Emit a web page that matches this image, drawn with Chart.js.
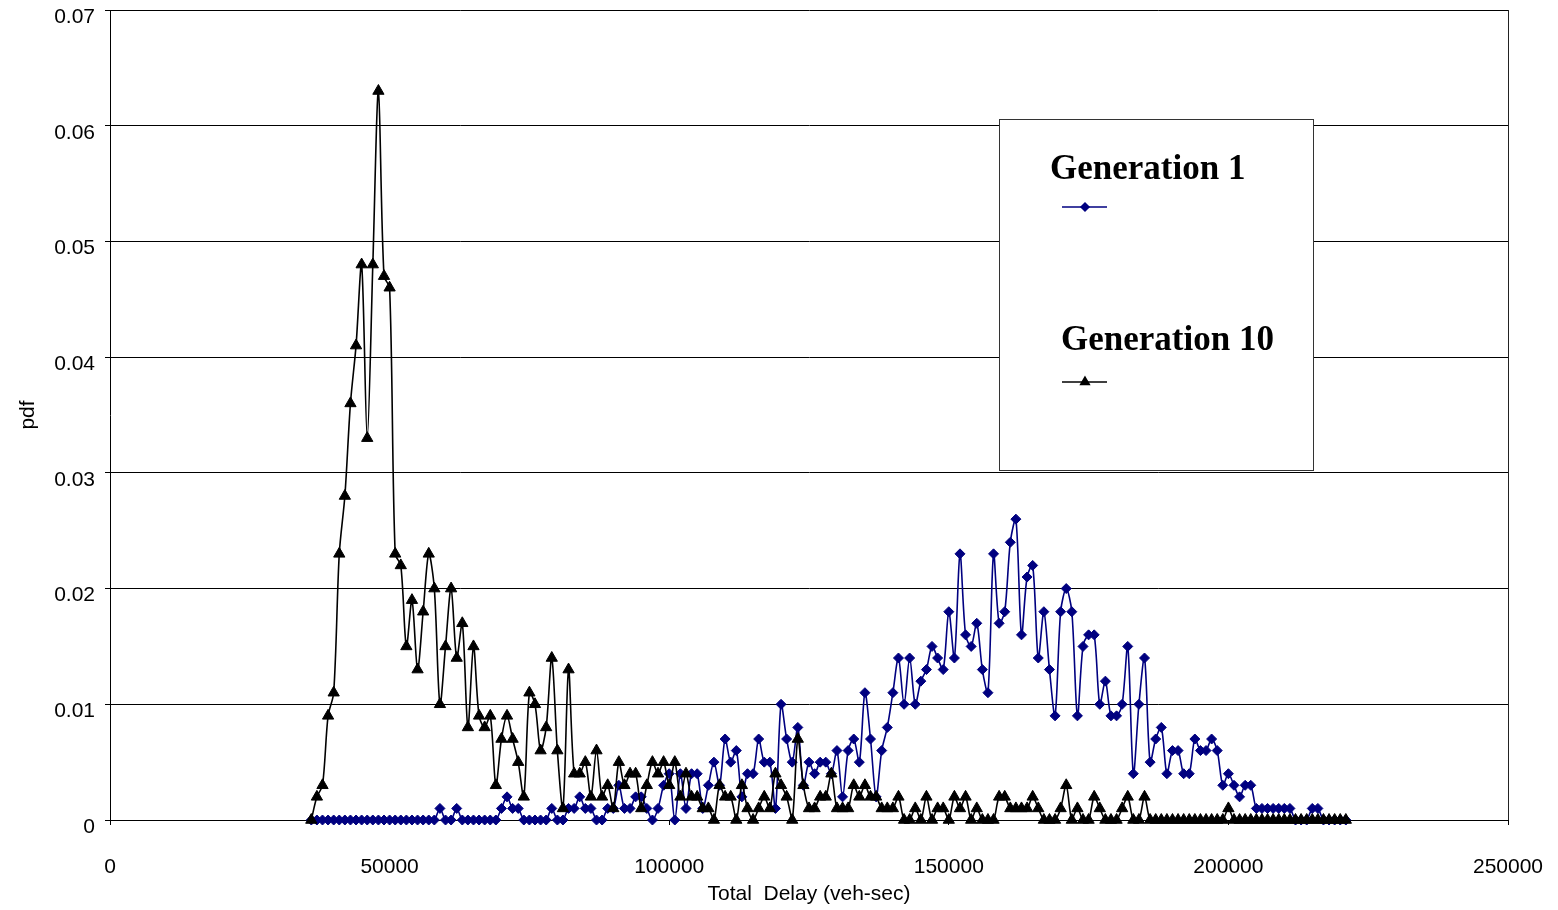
<!DOCTYPE html>
<html>
<head>
<meta charset="utf-8">
<script src="https://cdn.jsdelivr.net/npm/chart.js@4/dist/chart.umd.min.js"></script>
<style>
  html, body { margin: 0; padding: 0; background: #fff; }
  #pdfChart { display: block; }
</style>
</head>
<body>
<canvas id="pdfChart" width="1558" height="910"></canvas>
<script>
// total delay bins (veh-sec)
const delay = [
  36000, 37000, 38000, 39000, 40000, 41000, 42000, 43000, 44000, 45000,
  46000, 47000, 48000, 49000, 50000, 51000, 52000, 53000, 54000, 55000,
  56000, 57000, 58000, 59000, 60000, 61000, 62000, 63000, 64000, 65000,
  66000, 67000, 68000, 69000, 70000, 71000, 72000, 73000, 74000, 75000,
  76000, 77000, 78000, 79000, 80000, 81000, 82000, 83000, 84000, 85000,
  86000, 87000, 88000, 89000, 90000, 91000, 92000, 93000, 94000, 95000,
  96000, 97000, 98000, 99000, 100000, 101000, 102000, 103000, 104000, 105000,
  106000, 107000, 108000, 109000, 110000, 111000, 112000, 113000, 114000, 115000,
  116000, 117000, 118000, 119000, 120000, 121000, 122000, 123000, 124000, 125000,
  126000, 127000, 128000, 129000, 130000, 131000, 132000, 133000, 134000, 135000,
  136000, 137000, 138000, 139000, 140000, 141000, 142000, 143000, 144000, 145000,
  146000, 147000, 148000, 149000, 150000, 151000, 152000, 153000, 154000, 155000,
  156000, 157000, 158000, 159000, 160000, 161000, 162000, 163000, 164000, 165000,
  166000, 167000, 168000, 169000, 170000, 171000, 172000, 173000, 174000, 175000,
  176000, 177000, 178000, 179000, 180000, 181000, 182000, 183000, 184000, 185000,
  186000, 187000, 188000, 189000, 190000, 191000, 192000, 193000, 194000, 195000,
  196000, 197000, 198000, 199000, 200000, 201000, 202000, 203000, 204000, 205000,
  206000, 207000, 208000, 209000, 210000, 211000, 212000, 213000, 214000, 215000,
  216000, 217000, 218000, 219000, 220000, 221000
];

const gen1 = [
  0, 0, 0, 0, 0, 0, 0, 0, 0, 0,
  0, 0, 0, 0, 0, 0, 0, 0, 0, 0,
  0, 0, 0, 0.001, 0, 0, 0.001, 0, 0, 0,
  0, 0, 0, 0, 0.001, 0.002, 0.001, 0.001, 0, 0,
  0, 0, 0, 0.001, 0, 0, 0.001, 0.001, 0.002, 0.001,
  0.001, 0, 0, 0.001, 0.001, 0.003, 0.001, 0.001, 0.002, 0.002,
  0.001, 0, 0.001, 0.003, 0.004, 0, 0.004, 0.001, 0.004, 0.004,
  0.001, 0.003, 0.005, 0.003, 0.007, 0.005, 0.006, 0.002, 0.004, 0.004,
  0.007, 0.005, 0.005, 0.001, 0.010, 0.007, 0.005, 0.008, 0.003, 0.005,
  0.004, 0.005, 0.005, 0.004, 0.006, 0.002, 0.006, 0.007, 0.005, 0.011,
  0.007, 0.002, 0.006, 0.008, 0.011, 0.014, 0.010, 0.014, 0.010, 0.012,
  0.013, 0.015, 0.014, 0.013, 0.018, 0.014, 0.023, 0.016, 0.015, 0.017,
  0.013, 0.011, 0.023, 0.017, 0.018, 0.024, 0.026, 0.016, 0.021, 0.022,
  0.014, 0.018, 0.013, 0.009, 0.018, 0.020, 0.018, 0.009, 0.015, 0.016,
  0.016, 0.010, 0.012, 0.009, 0.009, 0.010, 0.015, 0.004, 0.010, 0.014,
  0.005, 0.007, 0.008, 0.004, 0.006, 0.006, 0.004, 0.004, 0.007, 0.006,
  0.006, 0.007, 0.006, 0.003, 0.004, 0.003, 0.002, 0.003, 0.003, 0.001,
  0.001, 0.001, 0.001, 0.001, 0.001, 0.001, 0, 0, 0, 0.001,
  0.001, 0, 0, 0, 0, 0
];

const gen10 = [
  0, 0.002, 0.003, 0.009, 0.011, 0.023, 0.028, 0.036, 0.041, 0.048,
  0.033, 0.048, 0.063, 0.047, 0.046, 0.023, 0.022, 0.015, 0.019, 0.013,
  0.018, 0.023, 0.020, 0.010, 0.015, 0.020, 0.014, 0.017, 0.008, 0.015,
  0.009, 0.008, 0.009, 0.003, 0.007, 0.009, 0.007, 0.005, 0.002, 0.011,
  0.010, 0.006, 0.008, 0.014, 0.006, 0.001, 0.013, 0.004, 0.004, 0.005,
  0.002, 0.006, 0.002, 0.003, 0.001, 0.005, 0.003, 0.004, 0.004, 0.001,
  0.003, 0.005, 0.004, 0.005, 0.003, 0.005, 0.002, 0.004, 0.002, 0.002,
  0.001, 0.001, 0, 0.003, 0.002, 0.002, 0, 0.003, 0.001, 0,
  0.001, 0.002, 0.001, 0.004, 0.003, 0.002, 0, 0.007, 0.003, 0.001,
  0.001, 0.002, 0.002, 0.004, 0.001, 0.001, 0.001, 0.003, 0.002, 0.003,
  0.002, 0.002, 0.001, 0.001, 0.001, 0.002, 0, 0, 0.001, 0,
  0.002, 0, 0.001, 0.001, 0, 0.002, 0.001, 0.002, 0, 0.001,
  0, 0, 0, 0.002, 0.002, 0.001, 0.001, 0.001, 0.001, 0.002,
  0.001, 0, 0, 0, 0.001, 0.003, 0, 0.001, 0, 0,
  0.002, 0.001, 0, 0, 0, 0.001, 0.002, 0, 0, 0.002,
  0, 0, 0, 0, 0, 0, 0, 0, 0, 0,
  0, 0, 0, 0, 0.001, 0, 0, 0, 0, 0,
  0, 0, 0, 0, 0, 0, 0, 0, 0, 0,
  0, 0, 0, 0, 0, 0
];

const yTicks = [0, 0.01, 0.02, 0.03, 0.04, 0.05, 0.06, 0.07];
const xTicks = [0, 50000, 100000, 150000, 200000, 250000];

const NAVY = '#000080';
const AXIS_FONT = { family: "'Liberation Sans', Arial, sans-serif", size: 21 };

function toPoints(ys) {
  return delay.map((d, i) => ({ x: d, y: ys[i] }));
}

// boxed legend inside the plot, plus the plot frame on the right
const boxLegend = {
  id: 'boxLegend',
  afterDraw(chart) {
    const ctx = chart.ctx;
    const area = chart.chartArea;
    ctx.save();
    ctx.strokeStyle = '#222';
    ctx.lineWidth = 1;
    ctx.beginPath();
    ctx.moveTo(area.right + 0.5, area.top);
    ctx.lineTo(area.right + 0.5, area.bottom);
    ctx.stroke();

    const bx = 999.5, by = 119.5, bw = 314, bh = 351;
    ctx.fillStyle = '#fff';
    ctx.fillRect(bx, by, bw, bh);
    ctx.strokeStyle = '#333';
    ctx.strokeRect(bx, by, bw, bh);

    const entries = [
      { ds: chart.data.datasets[1], tx: 1050, ty: 170, ly: 207, r: 4 },
      { ds: chart.data.datasets[0], tx: 1061, ty: 341, ly: 382, r: 5 }
    ];
    ctx.font = "bold 35px 'Liberation Serif', 'Times New Roman', serif";
    ctx.textBaseline = 'middle';
    ctx.textAlign = 'left';
    entries.forEach(e => {
      ctx.fillStyle = '#000';
      ctx.fillText(e.ds.label, e.tx, e.ty);
      ctx.strokeStyle = e.ds.borderColor;
      ctx.lineWidth = 1.5;
      ctx.beginPath();
      ctx.moveTo(1062, e.ly);
      ctx.lineTo(1107, e.ly);
      ctx.stroke();
      ctx.fillStyle = e.ds.pointBackgroundColor;
      ctx.strokeStyle = e.ds.pointBorderColor;
      Chart.helpers.drawPoint(ctx, {
        pointStyle: e.ds.pointStyle, radius: e.r, rotation: 0, borderWidth: 1
      }, 1085, e.ly);
    });
    ctx.restore();
  }
};

new Chart(document.getElementById('pdfChart'), {
  type: 'line',
  data: {
    datasets: [
      {
        label: 'Generation 10',
        data: toPoints(gen10),
        borderColor: '#000',
        backgroundColor: '#000',
        borderWidth: 1.6,
        pointStyle: 'triangle',
        pointRadius: 6.5,
        pointBackgroundColor: '#000',
        pointBorderColor: '#000',
        pointBorderWidth: 1,
        tension: 0.3,
        clip: false,
        order: 0
      },
      {
        label: 'Generation 1',
        data: toPoints(gen1),
        borderColor: NAVY,
        backgroundColor: NAVY,
        borderWidth: 1.6,
        pointStyle: 'rectRot',
        pointRadius: 5,
        pointBackgroundColor: NAVY,
        pointBorderColor: NAVY,
        pointBorderWidth: 1,
        tension: 0.3,
        clip: false,
        order: 1
      }
    ]
  },
  options: {
    responsive: false,
    animation: false,
    events: [],
    layout: { padding: { top: 10, right: 50, left: 0, bottom: 0 } },
    plugins: {
      legend: { display: false },
      tooltip: { enabled: false }
    },
    scales: {
      x: {
        type: 'linear',
        min: 0,
        max: 250000,
        afterFit(scale) {
          scale.height = 90;
          scale.paddingLeft = 0;
          scale.paddingRight = 0;
        },
        afterBuildTicks(scale) { scale.ticks = xTicks.map(v => ({ value: v })); },
        ticks: {
          color: '#000',
          font: AXIS_FONT,
          padding: 30,
          maxRotation: 0,
          callback: v => String(v)
        },
        grid: { drawOnChartArea: false, drawTicks: true, tickLength: 5, color: '#000' },
        border: { display: true, color: '#000', width: 1 },
        title: {
          display: true,
          text: 'Total  Delay (veh-sec)',
          color: '#000',
          font: { family: "'Liberation Sans', Arial, sans-serif", size: 21 },
          padding: { top: 0, bottom: 3 }
        }
      },
      y: {
        min: 0,
        max: 0.07,
        afterFit(scale) {
          scale.width = 110;
          scale.paddingTop = 0;
          scale.paddingBottom = 0;
        },
        afterBuildTicks(scale) { scale.ticks = yTicks.map(v => ({ value: v })); },
        ticks: {
          color: '#000',
          font: AXIS_FONT,
          padding: 10,
          labelOffset: 7,
          callback: v => (v === 0 ? '0' : v.toFixed(2))
        },
        grid: { color: '#000', lineWidth: 1, drawTicks: true, tickLength: 5 },
        border: { display: true, color: '#000', width: 1 },
        title: {
          display: true,
          text: 'pdf',
          color: '#000',
          font: { family: "'Liberation Sans', Arial, sans-serif", size: 21 },
          padding: { top: 16, bottom: 0 }
        }
      }
    }
  },
  plugins: [boxLegend]
});
</script>
</body>
</html>
